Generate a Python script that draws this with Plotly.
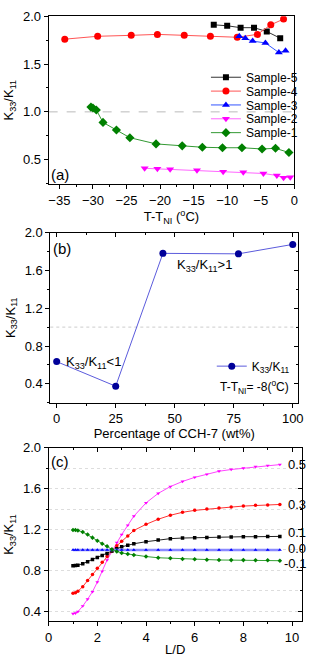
import plotly.graph_objects as go

# ---------------- Panel (a) data ----------------
s5_x = [-12.0, -10.0, -8.0, -6.0, -4.1, -2.1]
s5_y = [1.91, 1.90, 1.88, 1.88, 1.84, 1.77]
s4_x = [-34.2, -29.3, -24.3, -20.4, -16.4, -12.5, -8.5, -5.5, -3.5, -1.6]
s4_y = [1.76, 1.79, 1.80, 1.81, 1.80, 1.79, 1.78, 1.81, 1.91, 1.97]
s3_x = [-8.2, -7.3, -6.2, -4.3, -2.3, -1.3]
s3_y = [1.79, 1.77, 1.74, 1.72, 1.62, 1.64]
s2_x = [-22.3, -20.4, -18.5, -14.5, -10.6, -7.6, -4.6, -2.6, -1.6, -0.6]
s2_y = [0.41, 0.405, 0.40, 0.39, 0.375, 0.368, 0.356, 0.335, 0.31, 0.317]
s1_x = [-30.3, -30.0, -29.5, -28.5, -26.5, -24.5, -20.6, -16.7, -13.7, -10.7, -7.8, -4.8, -2.8, -0.8]
s1_y = [1.05, 1.04, 1.02, 0.89, 0.81, 0.73, 0.665, 0.645, 0.63, 0.625, 0.625, 0.612, 0.619, 0.575]
a_names = ["Sample-5", "Sample-4", "Sample-3", "Sample-2", "Sample-1"]

# ---------------- Panel (b) data ----------------
b_x = [0, 25, 45, 77, 100]
b_y = [0.635, 0.375, 1.78, 1.775, 1.875]

# ---------------- Panel (c) data ----------------
c_x = [1.0, 1.1, 1.2, 1.4, 1.6, 1.8, 2.0, 2.2, 2.4, 2.6, 2.8, 3.0, 3.25, 3.5,
       4.0, 4.5, 5.0, 5.5, 6.0, 6.5, 7.0, 7.5, 8.0, 8.5, 9.0, 9.5]
c_05 = [0.375, 0.38, 0.395, 0.45, 0.517, 0.59, 0.685, 0.79, 0.90, 0.985, 1.07, 1.15, 1.24, 1.33,
        1.46, 1.553, 1.62, 1.67, 1.71, 1.74, 1.77, 1.787, 1.80, 1.816, 1.826, 1.835]
c_03 = [0.575, 0.58, 0.595, 0.64, 0.70, 0.76, 0.82, 0.88, 0.935, 0.99, 1.04, 1.085, 1.135, 1.19,
        1.25, 1.30, 1.339, 1.368, 1.387, 1.40, 1.41, 1.419, 1.429, 1.436, 1.44, 1.445]
c_01 = [0.845, 0.847, 0.85, 0.865, 0.885, 0.905, 0.925, 0.945, 0.965, 0.99, 1.01, 1.03, 1.045, 1.06,
        1.08, 1.097, 1.11, 1.116, 1.12, 1.122, 1.126, 1.126, 1.129, 1.129, 1.132, 1.132]
c_00 = [1.0] * 26
c_m01 = [1.195, 1.195, 1.19, 1.175, 1.15, 1.12, 1.09, 1.06, 1.035, 1.005, 0.985, 0.97, 0.96, 0.95,
         0.935, 0.923, 0.918, 0.911, 0.908, 0.904, 0.901, 0.90, 0.90, 0.898, 0.898, 0.894]
c_labels = ["0.5", "0.3", "0.1", "0.0", "-0.1"]

FONT = "Liberation Sans, Arial, sans-serif"
W, H = 309, 657


def px_x(a, b):
    return [a / W, b / W]


def px_y(top, bottom):
    return [1 - bottom / H, 1 - top / H]


fig = go.Figure()

# ---- Panel (a) traces (each in its own one-entry legend for tight spacing) ----
a_series = [
    (s5_x, s5_y, "#333333", "black", "square", 6),
    (s4_x, s4_y, "#ff5555", "#ff0000", "circle", 7),
    (s3_x, s3_y, "#3355ff", "#0000ff", "triangle-up", 7),
    (s2_x, s2_y, "#ff66ff", "#ff00ff", "triangle-down", 7),
    (s1_x, s1_y, "#339933", "#008000", "diamond", 7),
]
a_legends = ["legend", "legend3", "legend4", "legend5", "legend6"]
for (xs, ys, lc, mc, sym, sz), nm, lg in zip(a_series, a_names, a_legends):
    fig.add_trace(go.Scatter(x=xs, y=ys, name=nm, mode="lines+markers", legend=lg,
                             line=dict(color=lc, width=1),
                             marker=dict(symbol=sym, size=sz, color=mc),
                             xaxis="x", yaxis="y"))

# ---- Panel (b) trace ----
fig.add_trace(go.Scatter(x=b_x, y=b_y, name="K<sub>33</sub>/K<sub>11</sub>",
                         mode="lines+markers", legend="legend2",
                         line=dict(color="#5b5bdc", width=1),
                         marker=dict(symbol="circle", size=7, color="#000099"),
                         xaxis="x2", yaxis="y2"))
# invisible trace on overlay axes for mirrored inside ticks
fig.add_trace(go.Scatter(x=b_x, y=b_y, mode="markers", showlegend=False, hoverinfo="skip",
                         marker=dict(opacity=0), xaxis="x4", yaxis="y4"))

# ---- Panel (c) traces ----
c_series = [
    (c_05, "#ff00ff", "#ff44ff", "triangle-down", 1),
    (c_03, "#ff0000", "#ff3333", "circle", 1),
    (c_01, "#000000", "#222222", "square", 1),
    (c_00, "#0000ff", "#8a8aff", "triangle-up", 2.5),
    (c_m01, "#008000", "#33a033", "diamond", 1),
]
for ys, mc, lc, sym, lw in c_series:
    fig.add_trace(go.Scatter(x=c_x, y=ys, mode="lines+markers", showlegend=False,
                             line=dict(color=lc, width=lw),
                             marker=dict(symbol=sym, size=3.5, color=mc),
                             xaxis="x3", yaxis="y3"))
fig.add_trace(go.Scatter(x=c_x, y=c_00, mode="markers", showlegend=False, hoverinfo="skip",
                         marker=dict(opacity=0), xaxis="x5", yaxis="y5"))

# label annotations at curve ends
c_yshifts = [0, 0, 4, 1, -3]
c_xshifts = [6, 6, 6, 6, 2]
annotations = []
for ys, lab, ysh, xsh in zip([c_05, c_03, c_01, c_00, c_m01], c_labels, c_yshifts, c_xshifts):
    annotations.append(dict(x=c_x[-1], y=ys[-1], xref="x3", yref="y3", text=lab,
                            showarrow=False, xanchor="left", yanchor="middle",
                            xshift=xsh, yshift=ysh,
                            font=dict(size=13, color="black", family=FONT)))


def pann(cx, cy, text, size):
    return dict(x=cx / W, y=1 - cy / H, xref="paper", yref="paper", text=text,
                showarrow=False, xanchor="center", yanchor="middle",
                font=dict(size=size, color="black", family=FONT))


annotations += [
    pann(58, 169, "(a)", 15),
    pann(60, 244, "(b)", 15),
    pann(58, 459, "(c)", 15),
    pann(206, 261, "K<sub>33</sub>/K<sub>11</sub>&gt;1", 13),
    pann(92, 359, "K<sub>33</sub>/K<sub>11</sub>&lt;1", 13),
    pann(258, 384, "T-T<sub>NI</sub>= -8(<sup>o</sup>C)", 12),
]

ytitle = "K<sub>33</sub>/K<sub>11</sub>"
tickfont = dict(size=13, color="black", family=FONT)
titlefont = dict(size=13, color="black", family=FONT)

common = dict(showline=True, linecolor="black", linewidth=1, ticks="outside", ticklen=4,
              tickcolor="black", tickfont=tickfont, showgrid=False, zeroline=False)

legfont = dict(size=12, color="black", family=FONT)
leg_centers = [71, 85, 99, 113, 127]
legend_layout = {}
for lg, cy in zip(a_legends, leg_centers):
    legend_layout[lg] = dict(x=208 / W, y=1 - cy / H, xanchor="left", yanchor="middle",
                             bgcolor="rgba(0,0,0,0)", font=legfont, borderwidth=0)

fig.update_layout(
    width=W, height=H, margin=dict(l=0, r=0, t=0, b=0),
    paper_bgcolor="white", plot_bgcolor="white",
    font=dict(family=FONT, color="black"),
    showlegend=True,
    annotations=annotations,
    legend2=dict(x=214 / W, y=1 - 363 / H, xanchor="left", yanchor="middle",
                 bgcolor="rgba(0,0,0,0)", font=legfont),
    # panel (a)
    xaxis=dict(domain=px_x(46, 299), anchor="y", range=[-36.6, 0.0], dtick=5, tick0=0,
               mirror=True, minor=dict(dtick=2.5, ticks="outside", ticklen=2, tickcolor="black"),
               title=dict(text="T-T<sub>NI</sub> (<sup>o</sup>C)", font=titlefont, standoff=2),
               **common),
    yaxis=dict(domain=px_y(9.3, 179), anchor="x", range=[0.245, 2.0], dtick=0.5, tick0=0,
               tickformat=".1f", mirror=True,
               minor=dict(dtick=0.25, ticks="outside", ticklen=2, tickcolor="black"),
               title=dict(text=ytitle, font=titlefont, standoff=6), **common),
    # panel (b)
    xaxis2=dict(domain=px_x(47.7, 303), anchor="y2", range=[-2.7, 102.3], dtick=25, tick0=0,
                mirror=True, minor=dict(dtick=12.5, ticks="outside", ticklen=2, tickcolor="black"),
                title=dict(text="Percentage of CCH-7 (wt%)", font=titlefont, standoff=2),
                **common),
    yaxis2=dict(domain=px_y(228, 400), anchor="x2", range=[0.2, 2.0], dtick=0.4, tick0=0,
                tickformat=".1f", mirror=True,
                minor=dict(dtick=0.2, ticks="outside", ticklen=2, tickcolor="black"),
                title=dict(text=ytitle, font=titlefont, standoff=6), **common),
    xaxis4=dict(overlaying="x2", side="top", anchor="y2", range=[-2.7, 102.3], dtick=25, tick0=0,
                ticks="inside", ticklen=4, tickcolor="black", showticklabels=False,
                showline=False, showgrid=False, zeroline=False,
                minor=dict(dtick=12.5, ticks="inside", ticklen=2, tickcolor="black")),
    yaxis4=dict(overlaying="y2", side="right", anchor="x2", range=[0.2, 2.0], dtick=0.4, tick0=0,
                ticks="inside", ticklen=4, tickcolor="black", showticklabels=False,
                showline=False, showgrid=False, zeroline=False,
                minor=dict(dtick=0.2, ticks="inside", ticklen=2, tickcolor="black")),
    # panel (c)
    xaxis3=dict(domain=px_x(46, 306.7), anchor="y3", range=[0, 10.4], dtick=2, tick0=0,
                mirror=True, minor=dict(dtick=1, ticks="outside", ticklen=2, tickcolor="black"),
                title=dict(text="L/D", font=titlefont, standoff=2), **common),
    yaxis3=dict(domain=px_y(445.5, 621), anchor="x3", range=[0.3, 2.0], dtick=0.4, tick0=0,
                tickformat=".1f", mirror=True,
                minor=dict(dtick=0.2, ticks="outside", ticklen=2, tickcolor="black",
                           showgrid=True, gridcolor="#dddddd", griddash="dot", gridwidth=1),
                title=dict(text=ytitle, font=titlefont, standoff=6),
                **{k: v for k, v in common.items() if k != "showgrid"},
                showgrid=True, gridcolor="#dddddd", griddash="dot", gridwidth=1),
    xaxis5=dict(overlaying="x3", side="top", anchor="y3", range=[0, 10.4], dtick=2, tick0=0,
                ticks="inside", ticklen=4, tickcolor="black", showticklabels=False,
                showline=False, showgrid=False, zeroline=False,
                minor=dict(dtick=1, ticks="inside", ticklen=2, tickcolor="black")),
    yaxis5=dict(overlaying="y3", side="right", anchor="x3", range=[0.3, 2.0], dtick=0.4, tick0=0,
                ticks="inside", ticklen=4, tickcolor="black", showticklabels=False,
                showline=False, showgrid=False, zeroline=False,
                minor=dict(dtick=0.2, ticks="inside", ticklen=2, tickcolor="black")),
    **legend_layout,
)

# reference lines at K33/K11 = 1 in panels (a) and (b)
fig.add_hline(y=1.0, line=dict(color="#bbbbbb", width=1, dash="dash"), xref="x", yref="y",
              layer="below")
fig.add_shape(type="line", xref="x2 domain", yref="y2", x0=0, x1=1, y0=1.0, y1=1.0,
              line=dict(color="#cccccc", width=1, dash="dot"), layer="below")

fig.write_html("out.html", config={"displayModeBar": False},
               post_script="document.body.style.margin='0';document.body.style.overflow='hidden';")
